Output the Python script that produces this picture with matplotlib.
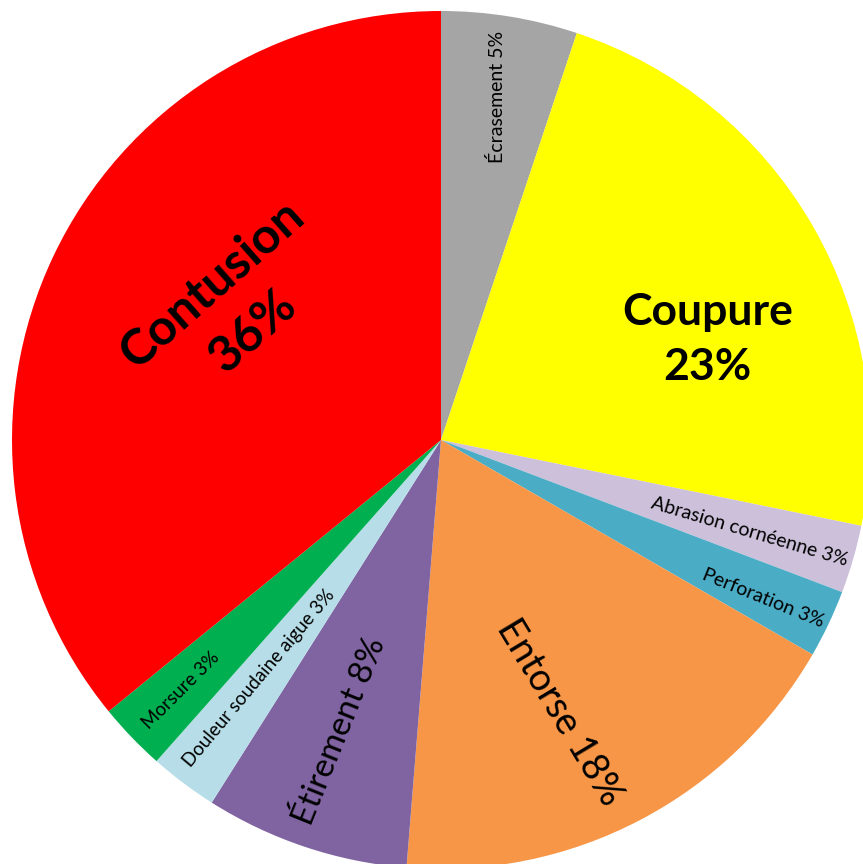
import matplotlib.pyplot as plt

# =============================================================================
# Data (counts, n = 39)
# =============================================================================
labels = ['Écrasement', 'Coupure', 'Abrasion cornéenne', 'Perforation',
          'Entorse', 'Étirement', 'Douleur soudaine aigue', 'Morsure',
          'Contusion']
counts = [2, 9, 1, 1, 7, 3, 1, 1, 14]
colors = ['#A5A5A5', '#FFFF00', '#CCC0DA', '#4BACC6', '#F79646',
          '#8064A2', '#B7DEE8', '#00B050', '#FF0000']

# label placement (data coords), rotation, size, bold, line break
lab_xy = [(0.131, 0.800), (0.622, 0.235), (0.718, -0.214), (0.751, -0.368),
          (0.277, -0.634), (-0.235, -0.678), (-0.424, -0.555),
          (-0.606, -0.583), (-0.487, 0.308)]
lab_rot = [90, 0, -16.5, -22, -59, 68, 50, 45, 41.5]
lab_size = [14, 32, 14, 14, 27, 24, 13.5, 13.5, 36]
lab_bold = [False, True, False, False, False, False, False, False, True]
lab_split = [False, True, False, False, False, False, False, False, True]

plt.rcParams['font.family'] = ['Lato', 'DejaVu Sans']

fig = plt.figure(figsize=(8.63, 8.64), dpi=100)
ax = fig.add_axes([0, 0, 1, 1])
ax.pie(counts, colors=colors, startangle=90, counterclock=False,
       radius=1, wedgeprops=dict(linewidth=0))

total = sum(counts)
for i, name in enumerate(labels):
    pct = '%d%%' % round(100 * counts[i] / total)
    sep = '\n' if lab_split[i] else ' '
    ax.text(lab_xy[i][0], lab_xy[i][1], name + sep + pct,
            rotation=lab_rot[i], rotation_mode='anchor',
            ha='center', va='center', multialignment='center',
            fontsize=lab_size[i],
            fontweight='bold' if lab_bold[i] else 'normal',
            linespacing=1.45, color='black')

R = 429.0
ax.set_xlim(-441 / R, 422 / R)
ax.set_ylim(-424 / R, 440 / R)
ax.set_aspect('equal')
ax.axis('off')

fig.savefig('out.png', dpi=100)
